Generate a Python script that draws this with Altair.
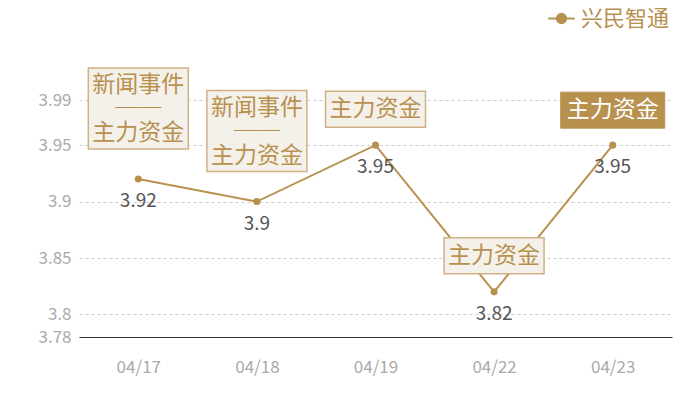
import altair as alt
import pandas as pd

dates = ["04/17", "04/18", "04/19", "04/22", "04/23"]
prices = [3.92, 3.90, 3.95, 3.82, 3.95]
notes = ["新闻事件\n──\n主力资金", "新闻事件\n──\n主力资金", "主力资金", "主力资金", "主力资金"]
note_kind = ["multi", "multi", "single", "single", "highlight"]
series_name = "兴民智通"
y_ticks = [3.78, 3.8, 3.85, 3.9, 3.95, 3.99]

df = pd.DataFrame({"date": dates, "price": prices, "note": notes,
                   "kind": note_kind, "series": series_name})

GOLD = "#b8914f"
FONT = "Noto Sans CJK SC"
BOX_FILL = "#f4f0ea"
BOX_STROKE = "#cfb284"

x = alt.X("date:O", sort=dates,
          scale=alt.Scale(type="point", padding=0.5),
          axis=alt.Axis(title=None, labelAngle=0, ticks=False, grid=False,
                        domainColor="#333333", domainWidth=1.2,
                        labelColor="#aaaaaa", labelFontSize=17, labelFont=FONT,
                        labelPadding=22))
y = alt.Y("price:Q",
          scale=alt.Scale(domain=[3.78, 3.99], zero=False, nice=False),
          axis=alt.Axis(title=None, values=y_ticks, format="~g", domain=False,
                        ticks=False, grid=True, gridDash=[3, 3], gridColor="#cccccc",
                        labelColor="#aaaaaa", labelFontSize=17, labelFont=FONT,
                        labelPadding=8))

base = alt.Chart(df).encode(x=x, y=y)

legend_symbol = ("M-1,0L-0.35,0M0.35,0L1,0"
                 "M-0.35,0A0.35,0.35 0 1,0 0.35,0A0.35,0.35 0 1,0 -0.35,0Z")

line = base.mark_line(strokeWidth=2).encode(
    color=alt.Color("series:N", scale=alt.Scale(range=[GOLD]),
                    legend=alt.Legend(title=None, orient="none", legendX=468, legendY=-96,
                                      symbolType=legend_symbol, symbolSize=700,
                                      symbolStrokeWidth=2, symbolFillColor=GOLD,
                                      symbolStrokeColor=GOLD,
                                      labelFont=FONT, labelFontSize=22,
                                      labelColor=GOLD, labelOffset=5))
)
points = base.mark_circle(size=50, color=GOLD, opacity=1)

values = base.mark_text(dy=22, fontSize=19, color="#555555", font=FONT,
                        baseline="middle").encode(text=alt.Text("price:Q", format="~g"))

multi_box = base.transform_filter(alt.datum.kind == "multi").mark_bar(
    width=100, yOffset=-111, y2Offset=-30, fill=BOX_FILL, stroke=BOX_STROKE,
    strokeWidth=1.5).encode(y2=alt.Y2("price:Q"))
multi_text = base.transform_filter(alt.datum.kind == "multi").mark_text(
    dy=-94, fontSize=23, color=GOLD, font=FONT, lineBreak="\n", lineHeight=24,
    baseline="middle").encode(text="note:N")

single_box = base.transform_filter(alt.datum.kind == "single").mark_bar(
    width=100, yOffset=-54, y2Offset=-18, fill=BOX_FILL, stroke=BOX_STROKE,
    strokeWidth=1.5).encode(y2=alt.Y2("price:Q"))
single_text = base.transform_filter(alt.datum.kind == "single").mark_text(
    dy=-36, fontSize=23, color=GOLD, font=FONT, baseline="middle").encode(text="note:N")

hi_box = base.transform_filter(alt.datum.kind == "highlight").mark_bar(
    width=104, yOffset=-53, y2Offset=-17, fill=GOLD, stroke=GOLD,
    strokeWidth=1).encode(y2=alt.Y2("price:Q"))
hi_text = base.transform_filter(alt.datum.kind == "highlight").mark_text(
    dy=-35, fontSize=23, color="white", font=FONT, baseline="middle").encode(text="note:N")

chart = alt.layer(line, points, values, multi_box, multi_text, single_box, single_text,
                  hi_box, hi_text).properties(
    width=593, height=237,
    autosize=alt.AutoSizeParams(type="none"),
    padding={"left": 71, "top": 92, "right": 20, "bottom": 47},
    background="white",
).configure_view(stroke=None)

chart.save("out.html", embed_options={"renderer": "svg", "actions": False})
